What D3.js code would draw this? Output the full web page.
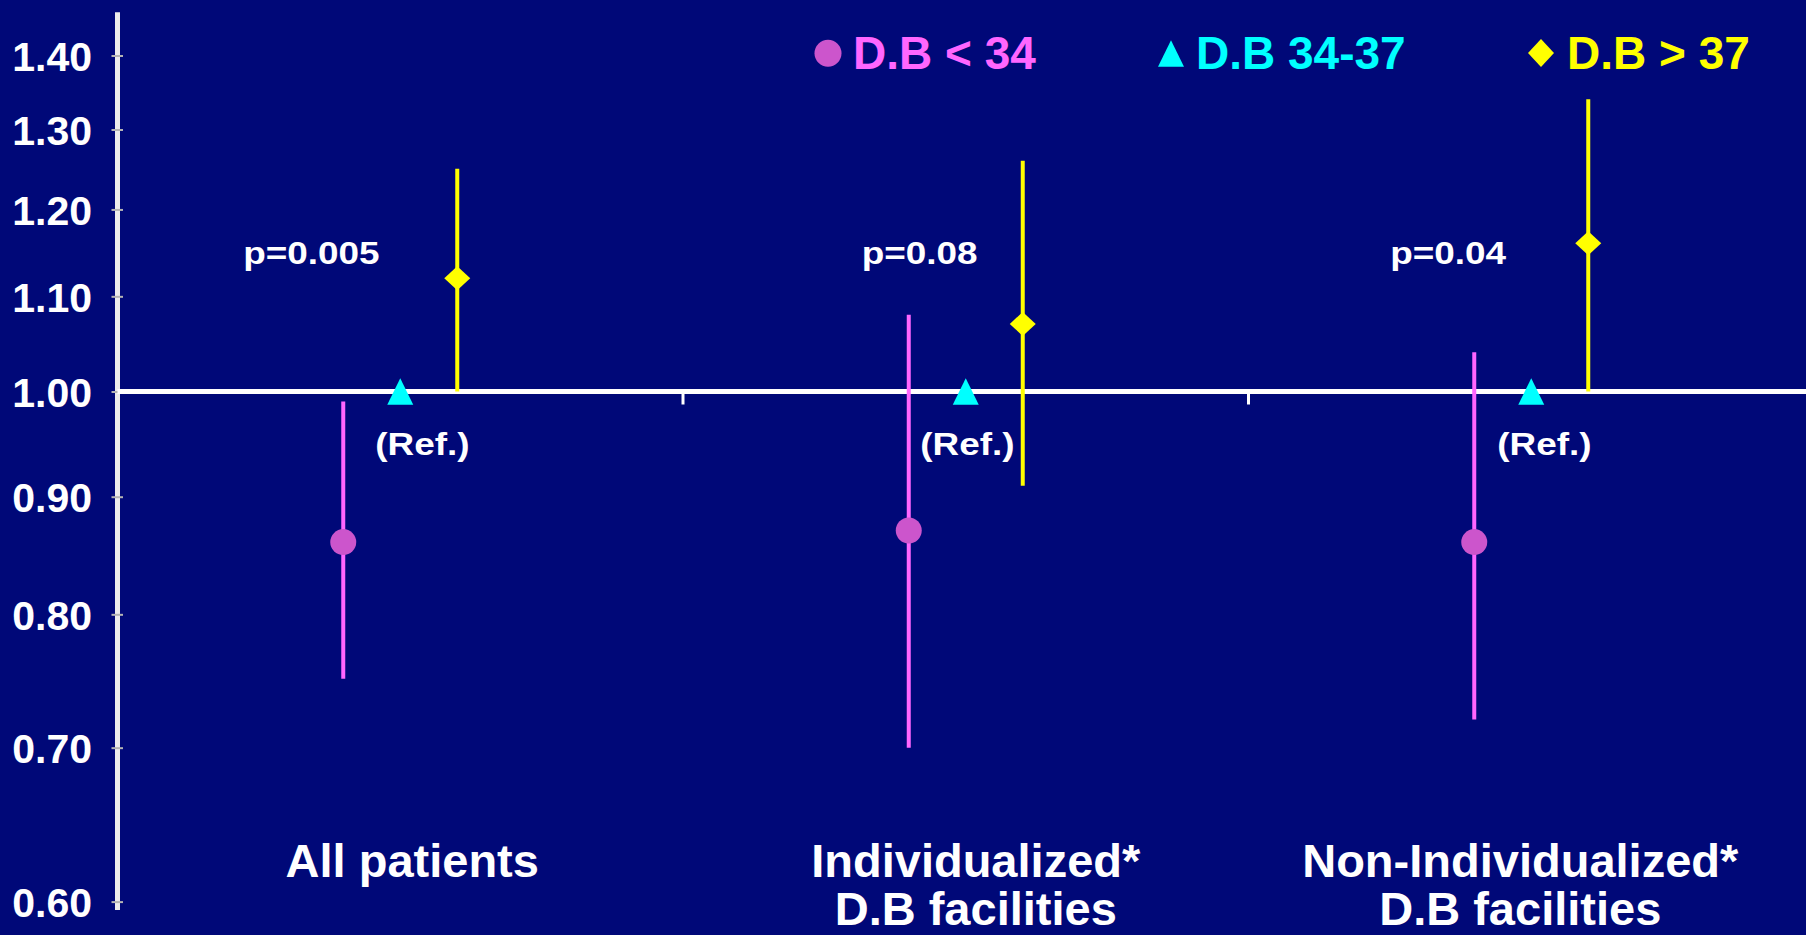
<!DOCTYPE html>
<html>
<head>
<meta charset="utf-8">
<script src="https://cdn.jsdelivr.net/npm/d3@7"></script>
<style>
  html, body { margin: 0; padding: 0; background: #000878; overflow: hidden; }
  svg { display: block; }
  text { font-family: Arial, "Liberation Sans", sans-serif; font-weight: bold; }
</style>
</head>
<body>
<svg id="chart" width="1806" height="935"></svg>
<script>
// ---------- data ----------
const categories = ["All patients", "Individualized*|D.B facilities", "Non-Individualized*|D.B facilities"];
const series = ["D.B < 34", "D.B 34-37", "D.B > 37"];
const seriesColors = ["#FF66FF", "#00FFFF", "#FFFF00"];
const markerColors = ["#CC55CC", "#00FFFF", "#FFFF00"];
// point estimates per category
const lowValues = [0.86, 0.87, 0.86];     // D.B < 34
const midValues = [1.00, 1.00, 1.00];     // D.B 34-37 (reference)
const highValues = [1.12, 1.07, 1.16];    // D.B > 37
// confidence intervals
const lowCI = [[0.75, 0.99], [0.70, 1.08], [0.72, 1.04]];
const highCI = [[1.00, 1.25], [0.91, 1.26], [1.00, 1.34]];
const pValues = ["p=0.005", "p=0.08", "p=0.04"];
const refLabel = "(Ref.)";
const yTicks = [0.60, 0.70, 0.80, 0.90, 1.00, 1.10, 1.20, 1.30, 1.40];

// ---------- layout ----------
const W = 1806, H = 935;
const svg = d3.select("#chart");
svg.append("rect").attr("width", W).attr("height", H).attr("fill", "#000878");

const axisX = 117.5;
const y = d3.scaleLog().domain([0.6, 1.4]).range([901.6, 55.5]);
const x = d3.scaleBand().domain(categories).range([axisX, 1814]).paddingInner(0).paddingOuter(0);
const sx = d3.scalePoint().domain(series).range([-57, 57]);
const cx = c => x(c) + x.bandwidth() / 2;

// y axis line (spans slightly beyond tick range)
svg.append("line")
  .attr("x1", axisX).attr("x2", axisX)
  .attr("y1", y(1.462)).attr("y2", y(0.595))
  .attr("stroke", "#ececec").attr("stroke-width", 5);

const yAxis = d3.axisLeft(y).tickValues(yTicks).tickFormat(d3.format(".2f")).tickSize(0).tickPadding(25.5);
const gy = svg.append("g").attr("transform", `translate(${axisX},0)`).call(yAxis);
gy.select(".domain").remove();
gy.selectAll(".tick text")
  .attr("fill", "#ffffff").attr("font-size", 41)
  .attr("font-family", "Arial, 'Liberation Sans', sans-serif").attr("font-weight", "bold")
  .attr("dy", "0.36em");
gy.selectAll(".tick").append("line")
  .attr("x1", -6).attr("x2", 5.5).attr("y1", 0).attr("y2", 0)
  .attr("stroke", "#b4b4b4").attr("stroke-width", 2);

// reference line at 1.00 with category boundary ticks
svg.append("line")
  .attr("x1", axisX).attr("x2", W)
  .attr("y1", y(1)).attr("y2", y(1))
  .attr("stroke", "#ffffff").attr("stroke-width", 5);
svg.selectAll(".xtick").data(categories.slice(1)).enter().append("line")
  .attr("x1", d => x(d)).attr("x2", d => x(d))
  .attr("y1", y(1)).attr("y2", y(1) + 13)
  .attr("stroke", "#ffffff").attr("stroke-width", 3);

// error bars
svg.selectAll(".errLow").data(categories).enter().append("line")
  .attr("x1", (d) => cx(d) + sx(series[0])).attr("x2", (d) => cx(d) + sx(series[0]))
  .attr("y1", (d, i) => y(lowCI[i][0])).attr("y2", (d, i) => y(lowCI[i][1]))
  .attr("stroke", seriesColors[0]).attr("stroke-width", 4);
svg.selectAll(".errHigh").data(categories).enter().append("line")
  .attr("x1", (d) => cx(d) + sx(series[2])).attr("x2", (d) => cx(d) + sx(series[2]))
  .attr("y1", (d, i) => y(highCI[i][0])).attr("y2", (d, i) => y(highCI[i][1]))
  .attr("stroke", seriesColors[2]).attr("stroke-width", 4);

// marker shapes
const triPath = (w, h) => `M0,${-h/2}L${w/2},${h/2}L${-w/2},${h/2}Z`;
const diaPath = (w, h) => `M0,${-h/2}L${w/2},0L0,${h/2}L${-w/2},0Z`;

svg.selectAll(".mLow").data(categories).enter().append("circle")
  .attr("cx", d => cx(d) + sx(series[0]))
  .attr("cy", (d, i) => y(lowValues[i]))
  .attr("r", 13).attr("fill", markerColors[0]);
svg.selectAll(".mMid").data(categories).enter().append("path")
  .attr("d", triPath(26, 26.7))
  .attr("transform", (d, i) => `translate(${cx(d) + sx(series[1])},${y(midValues[i])})`)
  .attr("fill", markerColors[1]);
svg.selectAll(".mHigh").data(categories).enter().append("path")
  .attr("d", diaPath(26, 24))
  .attr("transform", (d, i) => `translate(${cx(d) + sx(series[2])},${y(highValues[i])})`)
  .attr("fill", markerColors[2]);

// annotations (offsets from band centre, hand-placed as in the slide)
const pOffsets = [-157, -104, -141];
const refOffsets = [-25, -45.5, -34];
const annScale = 1.19;
categories.forEach((c, i) => {
  svg.append("text")
    .attr("transform", `translate(${cx(c) + pOffsets[i]},${y(1.136)}) scale(${annScale},1)`)
    .attr("fill", "#ffffff").attr("font-size", 31).text(pValues[i]);
  svg.append("text")
    .attr("transform", `translate(${cx(c) + refOffsets[i]},${y(0.938)}) scale(${annScale},1)`)
    .attr("fill", "#ffffff").attr("font-size", 31).text(refLabel);
});

// category labels
const labelDx = [12, 10, -11];
categories.forEach((c, i) => {
  const lines = c.split("|");
  const t = svg.append("text")
    .attr("text-anchor", "middle").attr("fill", "#ffffff").attr("font-size", 47);
  lines.forEach((ln, j) => {
    t.append("tspan").attr("x", cx(c) + labelDx[i]).attr("y", 876.7 + j * 48.5).text(ln);
  });
});

// legend
const legendItems = [
  { x: 828, tx: 853 },
  { x: 1171, tx: 1196 },
  { x: 1541, tx: 1567 }
];
const lg = svg.append("g");
series.forEach((s, i) => {
  const it = legendItems[i];
  if (i === 0) {
    lg.append("ellipse").attr("cx", it.x).attr("cy", 53.3).attr("rx", 13.5).attr("ry", 13.5).attr("fill", markerColors[0]);
  } else if (i === 1) {
    lg.append("path").attr("d", triPath(26, 26.5)).attr("transform", `translate(${it.x},53.5)`).attr("fill", markerColors[1]);
  } else {
    lg.append("path").attr("d", diaPath(26, 28)).attr("transform", `translate(${it.x},53)`).attr("fill", markerColors[2]);
  }
  lg.append("text").attr("x", it.tx).attr("y", 69.3)
    .attr("fill", seriesColors[i]).attr("font-size", 46).text(s);
});
</script>
</body>
</html>
